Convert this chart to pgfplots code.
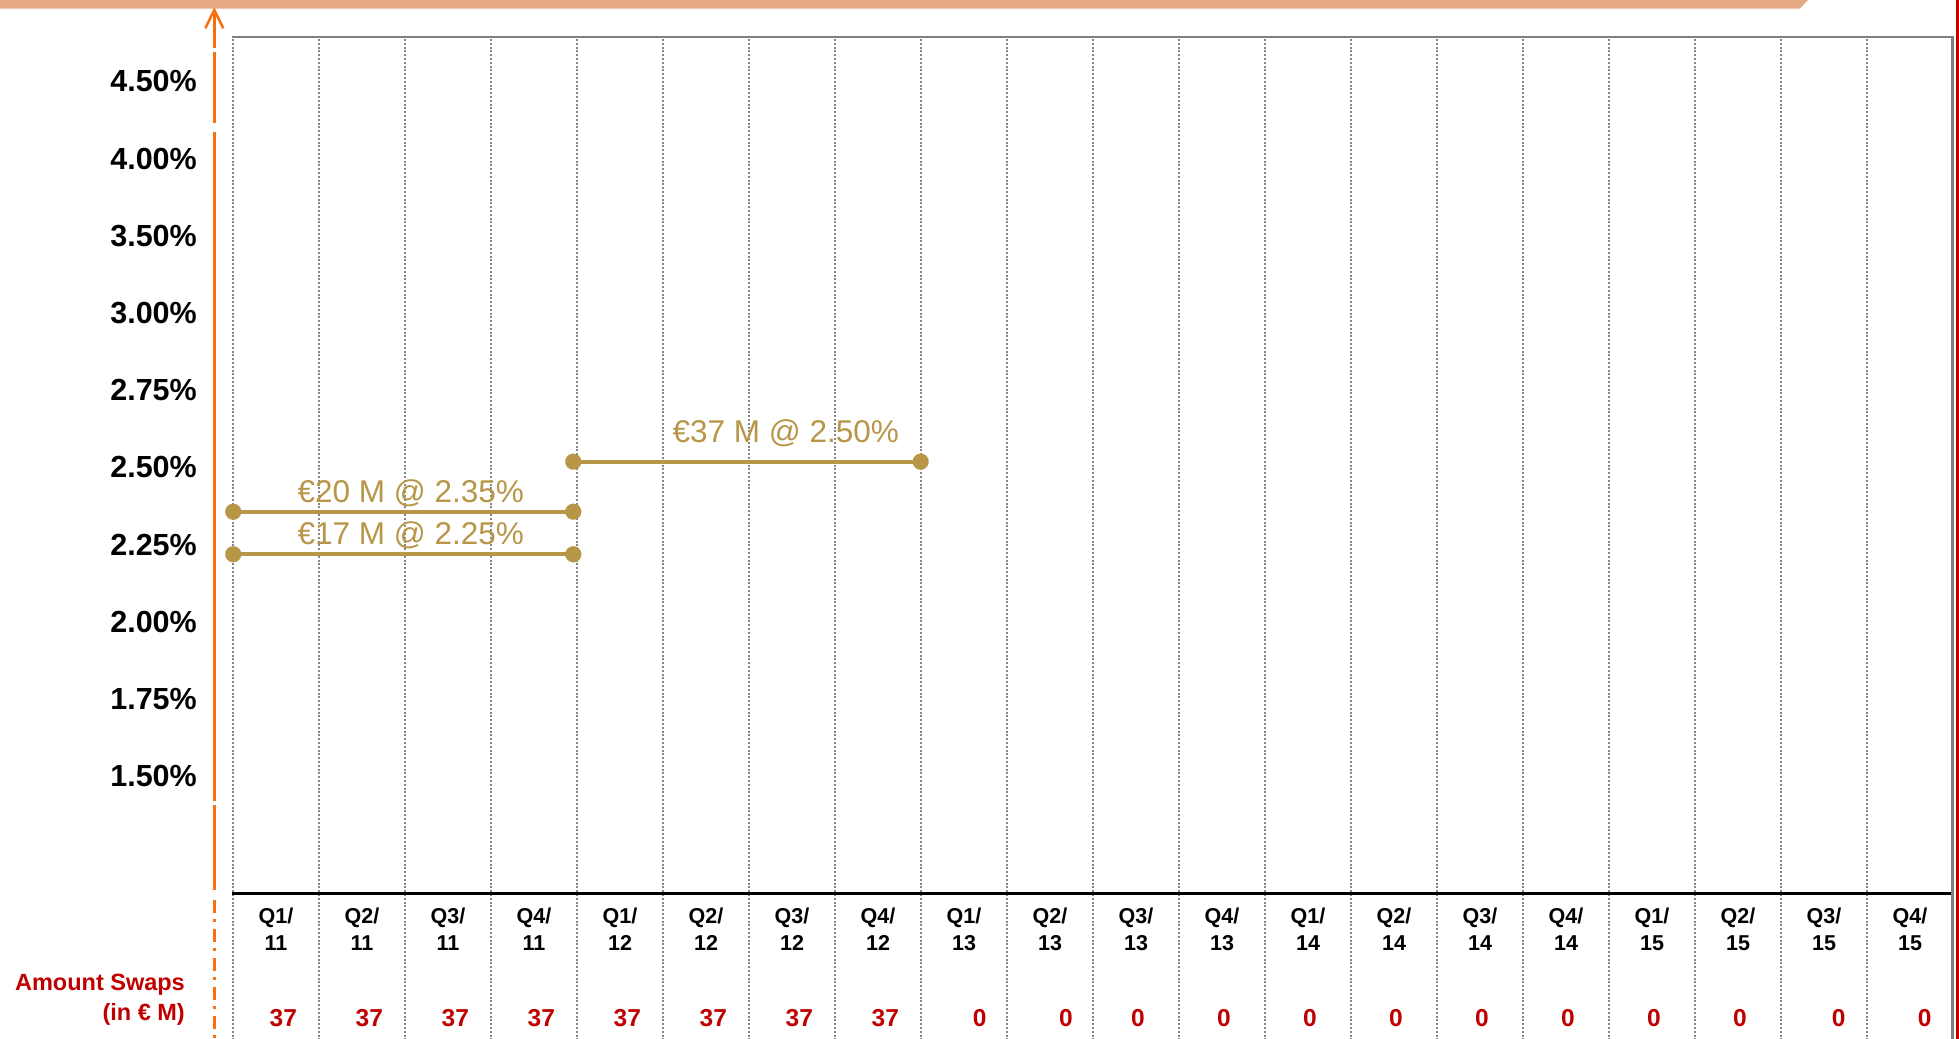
\documentclass[border=0pt]{standalone}
\usepackage{fontspec}
\setmainfont{Liberation Sans}
\usepackage{pgfplots}
\usepackage{pgfplotstable}
\pgfplotsset{compat=1.18}
\definecolor{gold}{RGB}{183,150,72}
\definecolor{axorange}{RGB}{250,110,15}
\definecolor{barorange}{RGB}{229,170,130}
\definecolor{swapred}{RGB}{192,0,0}
\definecolor{gridgray}{RGB}{135,135,135}
\definecolor{bordergray}{RGB}{128,128,128}

% amount of swaps per quarter (x = category position of the printed value)
\pgfplotstableread{
x      y        amount
0.585  -3.2435  37
1.585  -3.2435  37
2.585  -3.2435  37
3.585  -3.2435  37
4.585  -3.2435  37
5.585  -3.2435  37
6.585  -3.2435  37
7.585  -3.2435  37
8.681  -3.2435  0
9.686  -3.2435  0
10.523 -3.2435  0
11.523 -3.2435  0
12.523 -3.2435  0
13.523 -3.2435  0
14.523 -3.2435  0
15.523 -3.2435  0
16.523 -3.2435  0
17.523 -3.2435  0
18.671 -3.2435  0
19.672 -3.2435  0
}\amounts

\begin{document}
\begin{tikzpicture}
\useasboundingbox (0,0) rectangle (1959bp,-1039bp);
% top orange band
\fill[barorange] (0,0) -- (1808bp,0) -- (1800bp,-8.5bp) -- (0,-8.5bp) -- cycle;
% dotted vertical grid lines
\foreach \k in {0,...,19}{
  \draw[gridgray, line width=2.2bp, dash pattern=on 2bp off 1.8bp] ({233bp+86bp*\k},-39bp) -- ({233bp+86bp*\k},-1039bp);
}
% frame
\draw[bordergray, line width=2.8bp] (232bp,-37bp) -- (1952.5bp,-37bp) -- (1952.5bp,-1039bp);
\fill[swapred] (1955.5bp,0) rectangle (1959bp,-1039bp);
\draw[black, line width=2.8bp] (232bp,-893.3bp) -- (1951bp,-893.3bp);
% orange value axis with arrow
\draw[axorange, line width=2.5bp] (205.3bp,-28.3bp) -- (214.3bp,-10bp) -- (223.3bp,-28.3bp);
\draw[axorange, line width=2.5bp] (214.3bp,-10bp) -- (214.3bp,-47.5bp);
\draw[axorange, line width=2.5bp] (214.3bp,-52bp) -- (214.3bp,-123bp);
\draw[axorange, line width=2.5bp] (214.3bp,-132bp) -- (214.3bp,-801bp);
\draw[axorange, line width=2.5bp] (214.3bp,-804.5bp) -- (214.3bp,-890bp);
\draw[axorange, line width=2.5bp, dash pattern=on 12.5bp off 6bp on 3bp off 7.5bp] (214.3bp,-900bp) -- (214.3bp,-1039bp);
% left labels of the amount row
\node[anchor=base east, inner sep=0pt, text=swapred, font=\fontsize{23.5bp}{28bp}\selectfont\bfseries] at (185bp,-990bp) {Amount Swaps};
\node[anchor=base east, inner sep=0pt, text=swapred, font=\fontsize{23.5bp}{28bp}\selectfont\bfseries] at (185bp,-1020bp) {(in € M)};

\begin{axis}[
  at={(233bp,-893bp)}, anchor=south west,
  scale only axis, width=1720bp, height=856bp,
  xmin=0, xmax=20, ymin=-1.512, ymax=9.576,
  axis lines*=left,
  axis line style={draw=none},
  clip=false,
  major tick length=0pt,
  ytick={0,1,2,3,4,5,6,7,8,9},
  yticklabels={1.50\%,1.75\%,2.00\%,2.25\%,2.50\%,2.75\%,3.00\%,3.50\%,4.00\%,4.50\%},
  yticklabel style={font=\fontsize{30.5bp}{36bp}\selectfont\bfseries, anchor=east, inner sep=0pt, xshift=-36bp},
  xtick={0.5,1.5,2.5,3.5,4.5,5.5,6.5,7.5,8.5,9.5,10.5,11.5,12.5,13.5,14.5,15.5,16.5,17.5,18.5,19.5},
  xticklabels={{Q1/\\11},{Q2/\\11},{Q3/\\11},{Q4/\\11},{Q1/\\12},{Q2/\\12},{Q3/\\12},{Q4/\\12},{Q1/\\13},{Q2/\\13},{Q3/\\13},{Q4/\\13},{Q1/\\14},{Q2/\\14},{Q3/\\14},{Q4/\\14},{Q1/\\15},{Q2/\\15},{Q3/\\15},{Q4/\\15}},
  xticklabel style={font=\fontsize{21.5bp}{26.7bp}\selectfont\bfseries, align=center, anchor=north, inner sep=0pt, yshift=-15bp},
]
% swaps: 20 M @ 2.35%, 17 M @ 2.25% (Q1/11-Q4/11), 37 M @ 2.50% (Q1/12-Q4/12)
\addplot[gold, line width=4bp, mark=*, mark size=8bp, mark options={fill=gold, draw=gold, line width=0.1bp}] coordinates {(0.003,3.427) (3.957,3.427)};
\addplot[gold, line width=4bp, mark=*, mark size=8bp, mark options={fill=gold, draw=gold, line width=0.1bp}] coordinates {(0.003,2.876) (3.957,2.876)};
\addplot[gold, line width=4bp, mark=*, mark size=8bp, mark options={fill=gold, draw=gold, line width=0.1bp}] coordinates {(3.957,4.075) (7.996,4.075)};
\node[anchor=base, inner sep=0pt, text=gold, font=\fontsize{31.5bp}{36bp}\selectfont] at (axis cs:2.067,3.544) {€20 M @ 2.35\%};
\node[anchor=base, inner sep=0pt, text=gold, font=\fontsize{31.5bp}{36bp}\selectfont] at (axis cs:2.067,2.996) {€17 M @ 2.25\%};
\node[anchor=base, inner sep=0pt, text=gold, font=\fontsize{31.5bp}{36bp}\selectfont] at (axis cs:6.428,4.321) {€37 M @ 2.50\%};
% amount row
\addplot[draw=none, mark=none, nodes near coords, point meta=explicit symbolic,
  every node near coord/.append style={anchor=base, inner sep=0pt, text=swapred, font=\fontsize{24.5bp}{28bp}\selectfont\bfseries}]
  table[x=x, y=y, meta=amount] \amounts;
\end{axis}
\end{tikzpicture}
\end{document}
